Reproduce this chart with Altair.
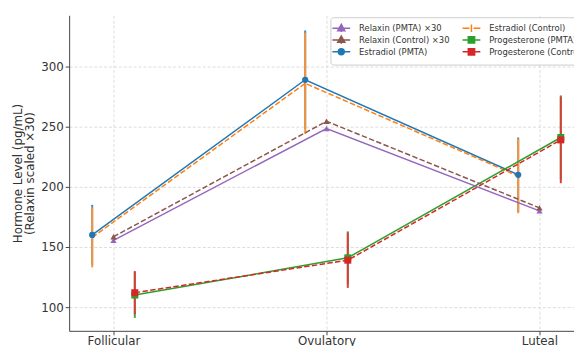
import altair as alt
import pandas as pd

# ---------------- data ----------------
phases = ["Follicular", "Ovulatory", "Luteal"]
phase_index = [0, 1, 2]

estradiol_pmta = [160, 289, 210]
estradiol_pmta_err = [25, 41, 31]
estradiol_ctrl = [158, 286, 209]
estradiol_ctrl_err = [25, 42, 31]

progesterone_pmta = [110, 141, 241]
progesterone_pmta_err = [19, 22, 35]
progesterone_ctrl = [112, 139, 239]
progesterone_ctrl_err = [18, 23, 36]

relaxin_pmta_x30 = [155.5, 248.5, 180]
relaxin_ctrl_x30 = [158.5, 254.5, 182.5]

series_names = [
    "Estradiol (PMTA)", "Estradiol (Control)",
    "Progesterone (PMTA)", "Progesterone (Control)",
    "Relaxin (PMTA) ×30", "Relaxin (Control) ×30",
]
series_values = [estradiol_pmta, estradiol_ctrl, progesterone_pmta,
                 progesterone_ctrl, relaxin_pmta_x30, relaxin_ctrl_x30]
series_errors = [estradiol_pmta_err, estradiol_ctrl_err, progesterone_pmta_err,
                 progesterone_ctrl_err, None, None]
series_offset = [-0.1, -0.1, 0.1, 0.1, 0.0, 0.0]
series_colors = ["#1f77b4", "#ff7f0e", "#2ca02c", "#d62728", "#9467bd", "#8c564b"]
errbar_colors = ["#3d89c0", "#f99538", "#3fab3f", "#dc3b3b", "#9467bd", "#8c564b"]
series_dashed = [False, True, False, True, False, True]
series_marker = ["circle", None, "square", "square", "triangle-up", "triangle-up"]

# legend order (filled column by column, 2 columns)
legend_order = [
    "Relaxin (PMTA) ×30", "Relaxin (Control) ×30", "Estradiol (PMTA)",
    "Estradiol (Control)", "Progesterone (PMTA)", "Progesterone (Control)",
]

rows = []
for name, vals, errs, off in zip(series_names, series_values, series_errors, series_offset):
    for i, v in zip(phase_index, vals):
        e = errs[i] if errs is not None else None
        rows.append({
            "series": name, "bar": name + " bar", "x": i + off, "y": v,
            "lo": v - e if e is not None else None,
            "hi": v + e if e is not None else None,
        })
df = pd.DataFrame(rows)

color_of = dict(zip(series_names, series_colors))

# ---------------- legend symbols (line + error bar + marker) ----------------
# symbol unit = 4 px (symbolSize 64)
line_solid = "M-2.25,0H2.25"
line_dash = "M-2.25,0H-0.5M0.5,0H2.25"
vbar = "M0,-0.95V0.95"
marker_path = {
    "circle": "M-0.75,0A0.75,0.75,0,1,1,0.75,0A0.75,0.75,0,1,1,-0.75,0Z",
    "square": "M-0.8,-0.8H0.8V0.8H-0.8Z",
    "triangle-up": "M0,-1L0.9,0.62L-0.9,0.62Z",
    None: "",
}
sym_path = {}
for name, dashed, mk in zip(series_names, series_dashed, series_marker):
    sym_path[name] = (line_dash if dashed else line_solid) + vbar + marker_path[mk]

legend = alt.Legend(
    title=None, orient="none", legendX=265, legendY=2,
    columns=2, columnPadding=10, rowPadding=-2.5,
    symbolSize=64, symbolStrokeWidth=1.5, labelOffset=13,
    labelFont="DejaVu Sans", labelFontSize=8.5, labelColor="#333333",
    padding=6, strokeColor="#cccccc", fillColor="rgba(255,255,255,0.8)",
    cornerRadius=3, symbolOpacity=1,
)

# colour scale for lines, markers and error bars (no legend)
color_scale = alt.Scale(domain=series_names + [n + " bar" for n in series_names],
                        range=series_colors + errbar_colors)
# legend scales
legend_color_scale = alt.Scale(domain=legend_order,
                               range=[color_of[n] for n in legend_order])
shape_scale = alt.Scale(domain=legend_order,
                        range=[sym_path[n] for n in legend_order])

label_expr = "[" + ",".join(f"'{p}'" for p in phases) + "][datum.value]"

x_scale = alt.Scale(domain=[-0.2083, 2.162], nice=False, zero=False)
y_scale = alt.Scale(domain=[80.3, 342.6], nice=False, zero=False)
x_enc = alt.X("x:Q", scale=x_scale,
              axis=alt.Axis(values=phase_index, labelExpr=label_expr, title=None,
                            labelFontSize=12, labelPadding=1, tickSize=4,
                            gridDash=[3, 2], gridColor="#d4d4d4", gridWidth=0.8))
y_enc = alt.Y("y:Q", scale=y_scale,
              axis=alt.Axis(values=[100, 150, 200, 250, 300], format="d",
                            title=["Hormone Level (pg/mL)", "(Relaxin scaled ×30)"],
                            titleFontSize=12, titleFontWeight="normal",
                            titleColor="#333333", titlePadding=4, titleLineHeight=12,
                            labelFontSize=12, tickSize=4,
                            gridDash=[3, 2], gridColor="#d4d4d4", gridWidth=0.8))
c_enc = alt.Color("series:N", scale=color_scale, legend=None)

base = alt.Chart(df)
layers = []
for name, errs in zip(series_names, series_errors):
    if errs is None:
        continue
    layers.append(base.transform_filter(alt.datum.series == name)
                  .mark_rule(strokeWidth=2, opacity=1)
                  .encode(x=x_enc, y=alt.Y("lo:Q", scale=y_scale), y2="hi:Q",
                          color=alt.Color("bar:N", scale=color_scale, legend=None)))
for name, dashed in zip(series_names, series_dashed):
    kw = {"strokeDash": [5.5, 2.4]} if dashed else {}
    layers.append(base.transform_filter(alt.datum.series == name)
                  .mark_line(strokeWidth=1.5, **kw)
                  .encode(x=x_enc, y=y_enc, color=c_enc))
for name, mk in zip(series_names, series_marker):
    if mk is None:
        continue
    size = {"circle": 40, "square": 50, "triangle-up": 40}[mk]
    layers.append(base.transform_filter(alt.datum.series == name)
                  .mark_point(filled=True, shape=mk, size=size, opacity=1)
                  .encode(x=x_enc, y=y_enc, color=c_enc))

# legend carrier (draws no marks, only provides the legend)
layers.append(base.transform_filter("false")
              .mark_point(filled=True, opacity=1, strokeWidth=1.5)
              .encode(x=x_enc, y=y_enc,
                      fill=alt.Fill("series:N", scale=legend_color_scale, legend=legend),
                      stroke=alt.Stroke("series:N", scale=legend_color_scale, legend=legend),
                      shape=alt.Shape("series:N", scale=shape_scale, legend=legend),
                      opacity=alt.value(1)))

chart = alt.layer(*layers).properties(
    width=512, height=320,
    autosize=alt.AutoSizeParams(type="none"),
    padding={"left": 62, "top": 5, "right": 0, "bottom": 13},
    background="white",
).configure_view(stroke=None).configure_axis(
    labelFont="DejaVu Sans", titleFont="DejaVu Sans",
    labelColor="#333333", domainColor="#444444", tickColor="#444444",
)

chart.save("out.html", embed_options={"renderer": "svg", "actions": False})
